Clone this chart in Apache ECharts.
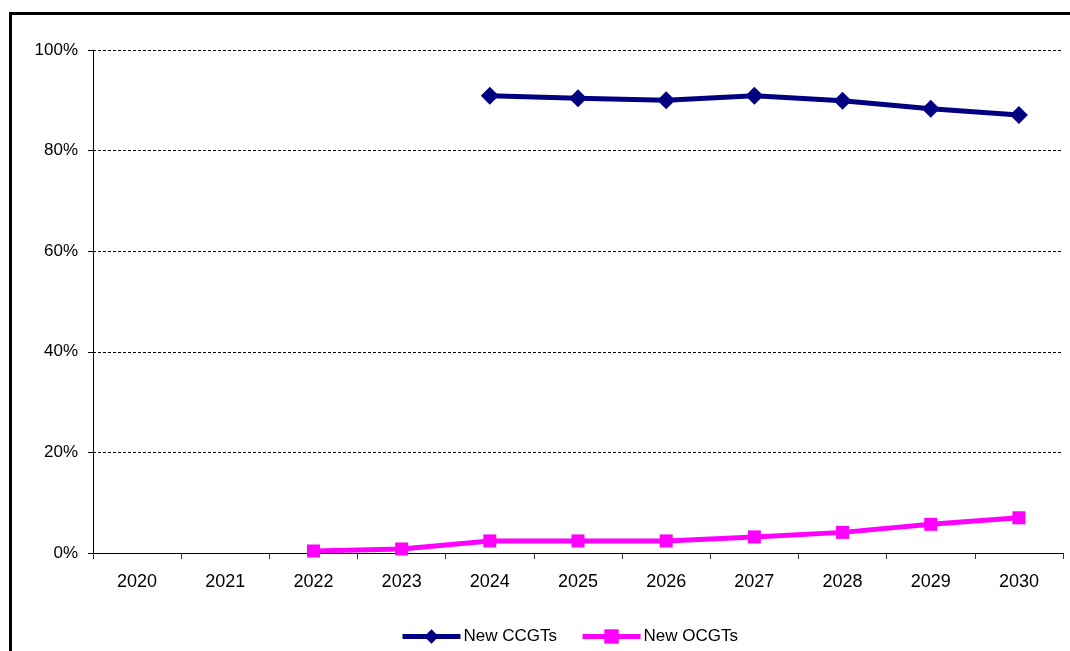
<!DOCTYPE html>
<html>
<head>
<meta charset="utf-8">
<script src="https://cdn.jsdelivr.net/npm/echarts@6/dist/echarts.min.js"></script>
<style>
  html, body { margin: 0; padding: 0; background: #fff; }
  #chart { width: 1070px; height: 651px; }
</style>
</head>
<body>
<div id="chart"></div>
<script>
// Years on the category axis
const years = ['2020', '2021', '2022', '2023', '2024', '2025', '2026', '2027', '2028', '2029', '2030'];
// Share (%) per year; null where a plant type is not yet present
const newCCGTs = [null, null, null, null, 90.9, 90.4, 90.0, 90.9, 89.9, 88.3, 87.1];
const newOCGTs = [null, null, 0.4, 0.8, 2.4, 2.4, 2.4, 3.2, 4.1, 5.7, 7.0];
// Percent axis ticks
const yTicks = [0, 20, 40, 60, 80, 100];

const chart = echarts.init(document.getElementById('chart'), null, { renderer: 'canvas' });
const font = 'Liberation Sans, Arial, sans-serif';

chart.setOption({
  animation: false,
  backgroundColor: '#ffffff',
  graphic: [{
    type: 'rect',
    shape: { x: 10.5, y: 13.5, width: 1100, height: 700 },
    style: { fill: null, stroke: '#000', lineWidth: 3 },
    silent: true,
    z: -1
  }],
  grid: { left: 93, right: 7, top: 50, bottom: 98, containLabel: false },
  legend: {
    left: 400,
    top: 628,
    padding: 0,
    itemWidth: 58,
    itemHeight: 18,
    itemGap: 23,
    lineStyle: { width: 5 },
    textStyle: { fontFamily: font, fontSize: 17, color: '#000', width: 104, padding: [0, 0, 0, -2] },
    data: ['New CCGTs', 'New OCGTs']
  },
  xAxis: {
    type: 'category',
    data: years,
    boundaryGap: true,
    axisLine: { lineStyle: { color: '#000', width: 1 } },
    axisTick: { show: true, length: 6, alignWithLabel: false, lineStyle: { color: '#333' } },
    axisLabel: { fontFamily: font, fontSize: 18, color: '#000', margin: 20 },
    splitLine: { show: false }
  },
  yAxis: {
    type: 'value',
    min: yTicks[0],
    max: yTicks[yTicks.length - 1],
    interval: 20,
    axisLine: { show: true, lineStyle: { color: '#000', width: 1 } },
    axisTick: { show: true, length: 5, lineStyle: { color: '#000' } },
    axisLabel: { fontFamily: font, fontSize: 17, color: '#000', margin: 15, formatter: '{value}%' },
    splitLine: { show: true, lineStyle: { color: '#000', type: [3, 2], width: 1 } }
  },
  series: [
    {
      name: 'New CCGTs',
      type: 'line',
      data: newCCGTs,
      color: '#000080',
      lineStyle: { width: 5, color: '#000080' },
      symbol: 'diamond',
      symbolSize: 18,
      itemStyle: { color: '#000080' },
      connectNulls: false
    },
    {
      name: 'New OCGTs',
      type: 'line',
      data: newOCGTs,
      color: '#ff00ff',
      lineStyle: { width: 5, color: '#ff00ff' },
      symbol: 'rect',
      symbolSize: 13,
      itemStyle: { color: '#ff00ff' },
      connectNulls: false
    }
  ]
});
</script>
</body>
</html>
